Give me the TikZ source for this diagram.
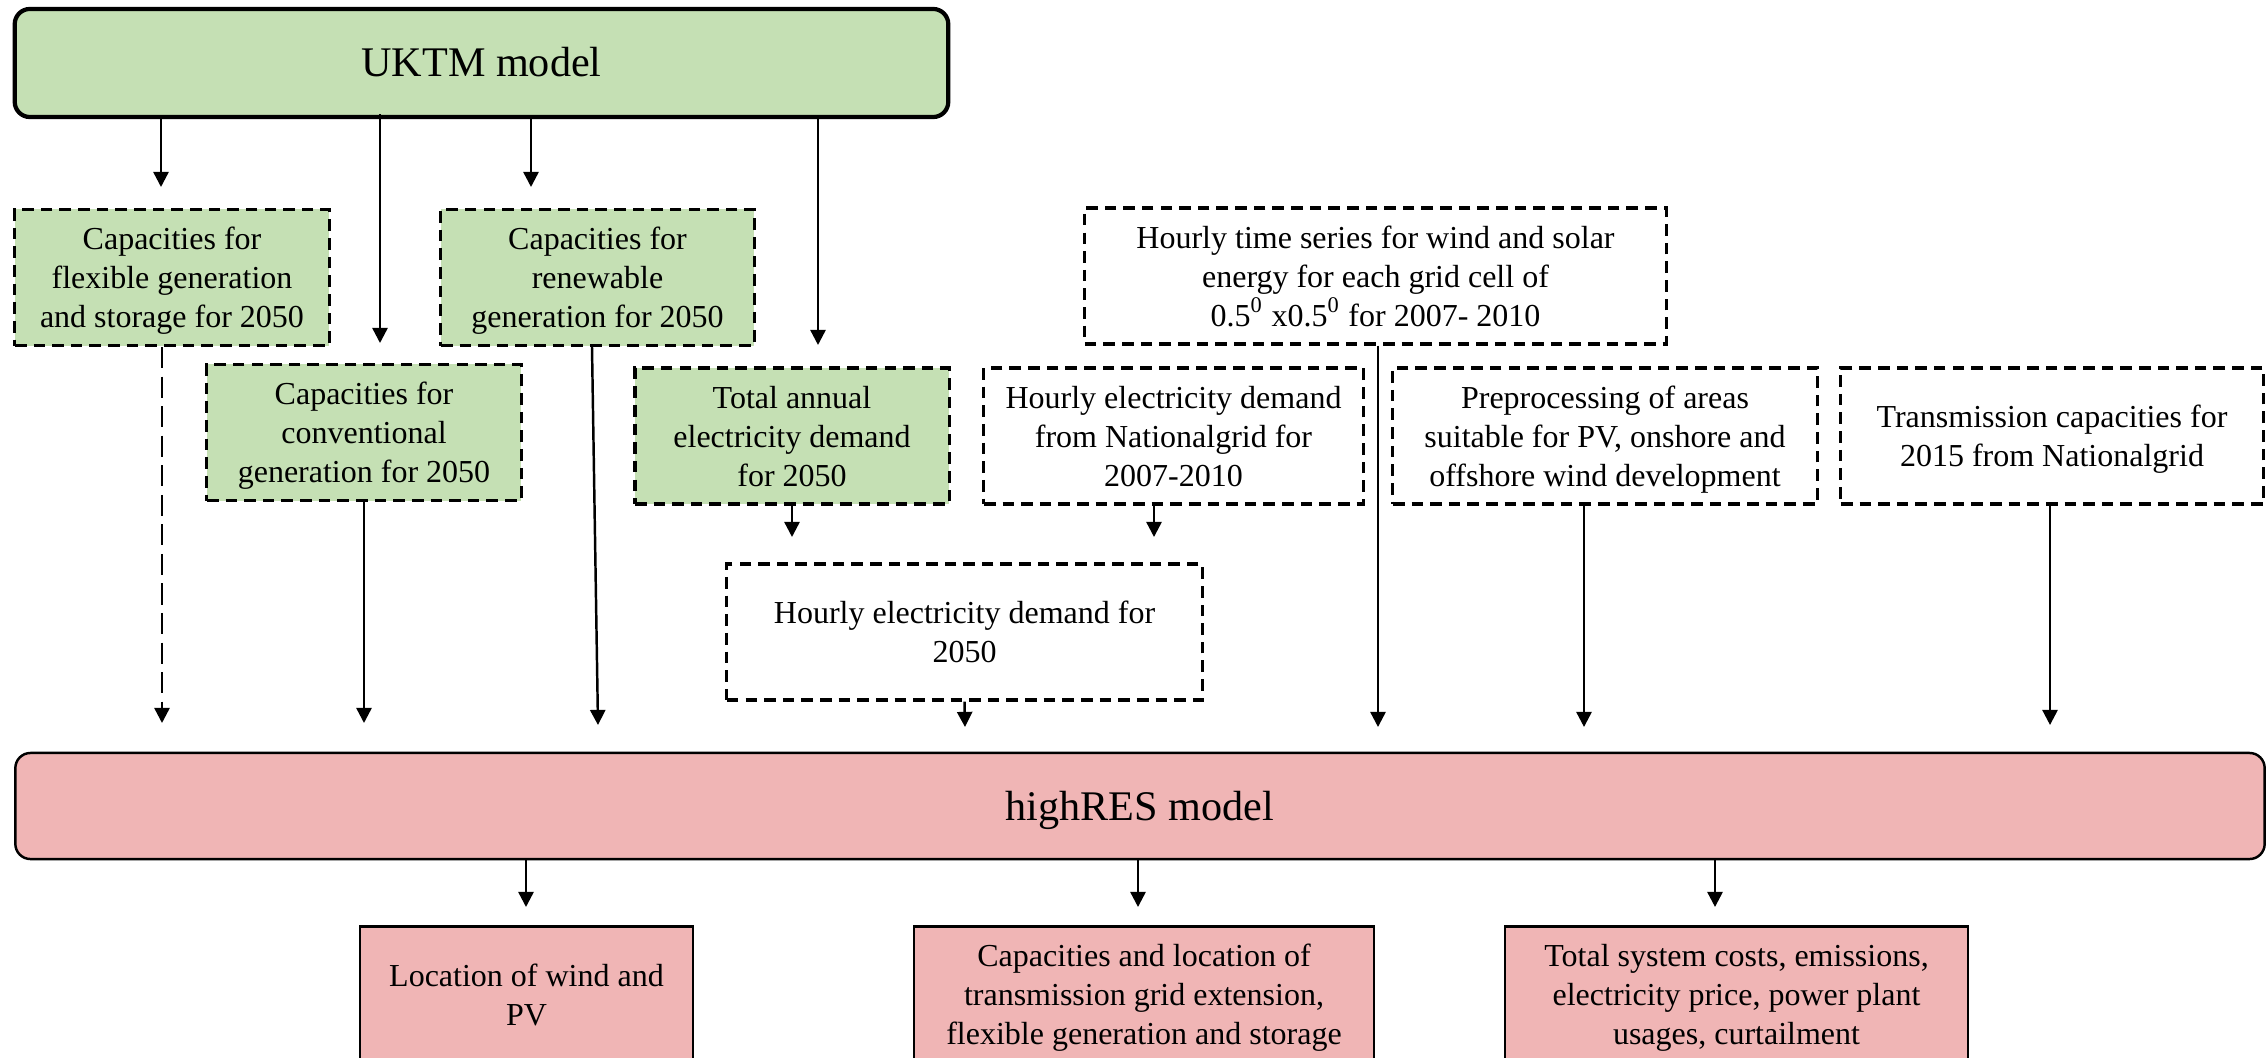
\documentclass[tikz,border=0pt]{standalone}
\usepackage{fontspec}
\setmainfont{Liberation Serif}
\usepackage{xcolor}
\usetikzlibrary{arrows.meta, positioning, calc}

\definecolor{uktmgreen}{HTML}{C5E0B4}
\definecolor{highrespink}{HTML}{F0B5B5}

\begin{document}
\begin{tikzpicture}[x=0.01cm, y=-0.01cm,
  every node/.style={font=\fontsize{9.1}{11.1}\selectfont, align=center, inner sep=0pt, text depth=-1pt},
  model/.style={draw, rounded corners=4.3pt, font=\fontsize{12}{14}\selectfont, text depth=0.5pt},
  inbox/.style={draw, line width=0.9pt, dash pattern=on 3.3pt off 2pt, minimum height=\boxheight},
  outbox/.style={draw, line width=0.6pt, fill=highrespink, minimum height=\boxheight},
  arr/.style={-{Triangle[length=4.3pt, width=4.3pt]}, line width=0.7pt}
]

% Uniform box size
\def\boxheight{1.36cm}

\clip (0,0) rectangle (2267,1058);

\node[model, fill=uktmgreen, line width=1.2pt, minimum width=9.33cm, minimum height=1.08cm]
(uktm)     at (481.5,63)   {UKTM model};
\node[inbox, fill=uktmgreen, minimum width=3.14cm]
(flex)     at (172,277.5)  {Capacities for\\flexible generation\\and storage for 2050};
\node[inbox, fill=uktmgreen, minimum width=3.13cm]
(renew)    at (597.5,277.5) {Capacities for\\renewable\\generation for 2050};
\node[inbox, fill=uktmgreen, minimum width=3.14cm]
(conv)     at (364,432.5)  {Capacities for\\conventional\\generation for 2050};
\node[inbox, fill=uktmgreen, minimum width=3.14cm]
(annual)   at (792,436)    {Total annual\\electricity demand\\for 2050};
\node[inbox, minimum width=3.79cm]
(ngdemand) at (1173.5,436) {Hourly electricity demand\\from Nationalgrid for\\2007-2010};
\node[inbox, minimum width=4.75cm]
(demand)   at (964.5,632)  {Hourly electricity demand for\\2050};
\node[inbox, minimum width=5.81cm]
(wind)     at (1375.5,276) {Hourly time series for wind and solar\\energy for each grid cell of\\0.5\textsuperscript{0} x0.5\textsuperscript{0} for 2007- 2010};
\node[inbox, minimum width=4.24cm]
(areas)    at (1605,436)   {Preprocessing of areas\\suitable for PV, onshore and\\offshore wind development};
\node[inbox, minimum width=4.22cm]
(trans)    at (2052,436)   {Transmission capacities for\\2015 from Nationalgrid};
\node[model, fill=highrespink, line width=0.7pt, minimum width=22.48cm, minimum height=1.06cm, text depth=-1pt]
(highres)  at (1140,806)   {highRES model};
\node[outbox, minimum width=3.33cm]
(loc)      at (526.5,994.5) {Location of wind and\\PV};
\node[outbox, minimum width=4.60cm]
(grid)     at (1144,994.5) {Capacities and location of\\transmission grid extension,\\flexible generation and storage};
\node[outbox, minimum width=4.63cm]
(cost)     at (1736.5,994.5) {Total system costs, emissions,\\electricity price, power plant\\usages, curtailment};

% UKTM outputs
\coordinate (flexin)   at (161,187);
\coordinate (convin)   at (380,343);
\coordinate (renewin)  at (531,187);
\coordinate (annualin) at (818,345);
\draw[arr] (uktm.south -| flexin) -- (flexin);
\draw[arr] ([yshift=0.05cm]uktm.south -| convin) -- (convin);
\draw[arr] (uktm.south -| renewin) -- (renewin);
\draw[arr] (uktm.south -| annualin) -- (annualin);

% Hourly demand inputs
\coordinate (dannual) at (792,537);
\coordinate (dng)     at (1154,537);
\draw[arr] (annual.south) -- (dannual);
\draw[arr] (ngdemand.south -| dng) -- (dng);

% highRES inputs
\coordinate (hflex)   at (162,723);
\coordinate (hconv)   at (364,723);
\coordinate (hrenew)  at (598,725);
\coordinate (hdemand) at (965,727);
\coordinate (hwind)   at (1378,727);
\coordinate (hareas)  at (1584,727);
\coordinate (htrans)  at (2050,725);
\draw[arr, dash pattern=on 6pt off 2.4pt] (flex.south -| hflex) -- (hflex);
\draw[arr] (conv.south) -- (hconv);
\draw[arr] ([xshift=-0.055cm]renew.south) -- (hrenew);
\draw[arr] (demand.south) -- (hdemand);
\draw[arr] (wind.south -| hwind) -- (hwind);
\draw[arr] (areas.south -| hareas) -- (hareas);
\draw[arr] (trans.south -| htrans) -- (htrans);

% highRES outputs
\coordinate (loctop)  at (526,907);
\coordinate (gridtop) at (1138,907);
\coordinate (costtop) at (1715,907);
\draw[arr] (highres.south -| loctop) -- (loctop);
\draw[arr] (highres.south -| gridtop) -- (gridtop);
\draw[arr] (highres.south -| costtop) -- (costtop);

\end{tikzpicture}
\end{document}
